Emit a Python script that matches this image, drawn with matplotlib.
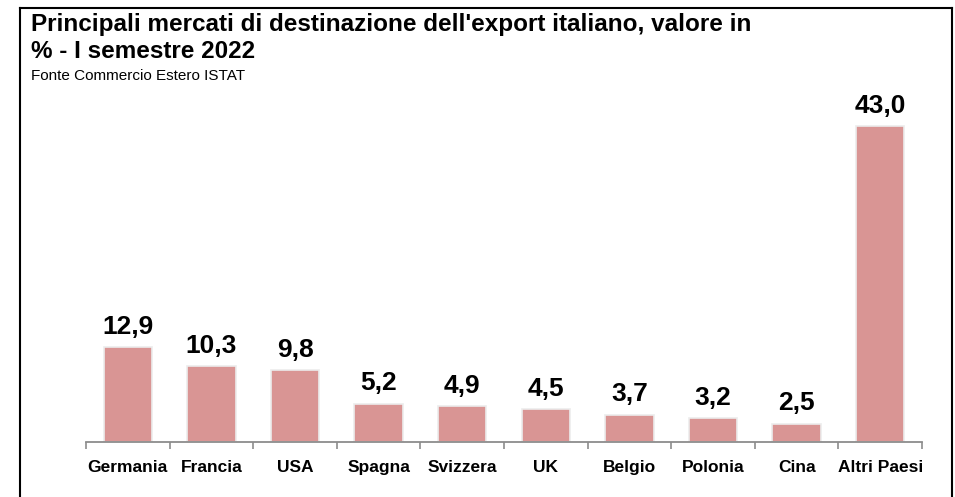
import matplotlib
matplotlib.use("Agg")
import matplotlib.pyplot as plt
from matplotlib.lines import Line2D
import numpy as np

# dati: quota % dell'export italiano, I semestre 2022
paesi = ["Germania", "Francia", "USA", "Spagna", "Svizzera", "UK",
         "Belgio", "Polonia", "Cina", "Altri Paesi"]
quote = [12.9, 10.3, 9.8, 5.2, 4.9, 4.5, 3.7, 3.2, 2.5, 43.0]

titolo_1 = "Principali mercati di destinazione dell'export italiano, valore in"
titolo_2 = "% - I semestre 2022"
fonte = "Fonte Commercio Estero ISTAT"

plt.rcParams["font.family"] = ["Liberation Sans", "DejaVu Sans"]

W, H = 955, 497
fig = plt.figure(figsize=(W / 100, H / 100), dpi=100)

def fx(px):
    return px / W

def fy(py):
    return 1 - py / H

# cornice (senza lato inferiore)
for xs, ys in [([20, 20], [H + 5, 8]), ([20, 952], [8, 8]), ([952, 952], [8, H + 5])]:
    fig.add_artist(Line2D([fx(x) for x in xs], [fy(y) for y in ys],
                          color="black", linewidth=1.5, solid_capstyle="projecting"))

# titolo e fonte
fig.text(fx(31), fy(31), titolo_1, fontsize=17.5, fontweight="bold", va="baseline")
fig.text(fx(31), fy(58), titolo_2, fontsize=17.5, fontweight="bold", va="baseline")
fig.text(fx(31), fy(80), fonte, fontsize=11, va="baseline")

# area del grafico
base_y = 442
px_per_unit = 7.35
ymax = 48
ax_h = ymax * px_per_unit
ax = fig.add_axes([fx(86), fy(base_y), fx(922) - fx(86), ax_h / H])

x = np.arange(len(paesi))
bars = ax.bar(x, quote, width=0.58, color="#D99594", edgecolor="#ECECEC", linewidth=1.2)

for b, v in zip(bars, quote):
    ax.annotate(f"{v:.1f}".replace(".", ","), (b.get_x() + b.get_width() / 2, v),
                xytext=(0, 6), textcoords="offset points", ha="center", va="bottom",
                fontsize=19, fontweight="bold")

ax.set_xlim(-0.5, len(paesi) - 0.5)
ax.set_ylim(0, ymax)
ax.set_yticks([])
for s in ["top", "right", "left"]:
    ax.spines[s].set_visible(False)
ax.spines["bottom"].set_color("#8C8C8C")
ax.spines["bottom"].set_linewidth(1.3)

ax.set_xticks(x)
ax.set_xticklabels(paesi, fontsize=12.5, fontweight="bold")
ax.tick_params(axis="x", which="major", length=0, pad=13)
ax.set_xticks(np.arange(-0.5, len(paesi)), minor=True)
ax.tick_params(axis="x", which="minor", length=5, width=1.2, color="#8C8C8C")

fig.savefig("out.png", dpi=100)
